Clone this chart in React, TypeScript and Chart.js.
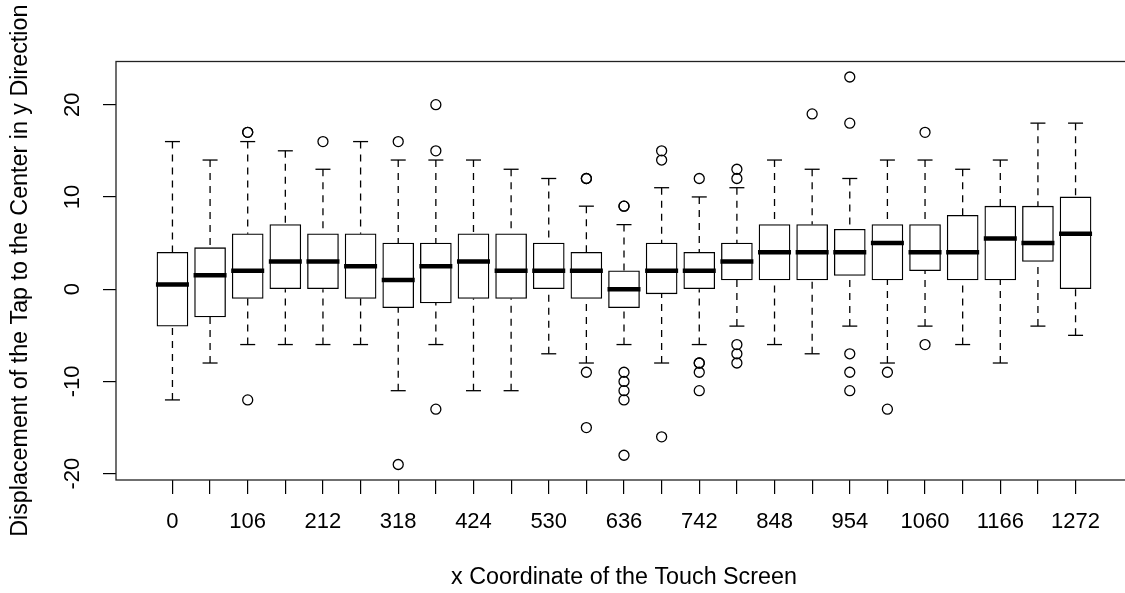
import React, { useEffect, useRef } from 'react';
import { Chart, registerables } from 'chart.js';

Chart.register(...registerables);

const categories = [0, 53, 106, 159, 212, 265, 318, 371, 424, 477, 530, 583, 636, 689, 742, 795, 848, 901, 954, 1007, 1060, 1113, 1166, 1219, 1272];
const whiskerHigh = [16, 14, 16, 15, 13, 16, 14, 14, 14, 13, 12, 9, 7, 11, 10, 11, 14, 13, 12, 14, 14, 13, 14, 18, 18];
const q3 = [4, 4.5, 6, 7, 6, 6, 5, 5, 6, 6, 5, 4, 2, 5, 4, 5, 7, 7, 6.5, 7, 7, 8, 9, 9, 10];
const median = [0.5, 1.5, 2, 3, 3, 2.5, 1, 2.5, 3, 2, 2, 2, 0, 2, 2, 3, 4, 4, 4, 5, 4, 4, 5.5, 5, 6];
const q1 = [-4, -3, -1, 0, 0, -1, -2, -1.5, -1, -1, 0, -1, -2, -0.5, 0, 1, 1, 1, 1.5, 1, 2, 1, 1, 3, 0];
const whiskerLow = [-12, -8, -6, -6, -6, -6, -11, -6, -11, -11, -7, -8, -6, -8, -6, -4, -6, -7, -4, -8, -4, -6, -8, -4, -5];
const outliers: number[][] = [
  [], [], [17, 17, -12], [], [16], [], [16, -19], [20, 15, -13], [], [], [],
  [12, 12, -9, -15], [9, 9, -9, -10, -11, -12, -18], [15, 14, -16], [12, -8, -8, -9, -11],
  [13, 12, -6, -7, -8], [], [19], [23, 18, -7, -9, -11], [-9, -13], [17, -6], [], [], [], [],
];
const yTicks = [-20, -10, 0, 10, 20];
const xTitle = 'x Coordinate of the Touch Screen';
const yTitle = 'Displacement of the Tap to the Center in y Direction';

const FONT = 'Liberation Sans, Arial, Helvetica, sans-serif';
const BOX_W = 31;

const boxPlugin = {
  id: 'boxExtras',
  afterDatasetsDraw(chart: any) {
    const { ctx, chartArea } = chart;
    const xs = chart.scales.x;
    const ys = chart.scales.y;
    const half = BOX_W / 2;
    const cap = 7.5;
    ctx.save();
    ctx.strokeStyle = '#000';
    const seg = (x1: number, y1: number, x2: number, y2: number) => {
      ctx.beginPath();
      ctx.moveTo(x1, y1);
      ctx.lineTo(x2, y2);
      ctx.stroke();
    };
    categories.forEach((c, i) => {
      const px = xs.getPixelForValue(c);
      const yHi = ys.getPixelForValue(whiskerHigh[i]);
      const yLo = ys.getPixelForValue(whiskerLow[i]);
      const yQ3 = ys.getPixelForValue(q3[i]);
      const yQ1 = ys.getPixelForValue(q1[i]);
      const yMed = ys.getPixelForValue(median[i]);
      ctx.lineWidth = 1.3;
      ctx.setLineDash([7, 6]);
      seg(px, yHi, px, yQ3);
      seg(px, yLo, px, yQ1);
      ctx.setLineDash([]);
      seg(px - cap, yHi, px + cap, yHi);
      seg(px - cap, yLo, px + cap, yLo);
      ctx.lineWidth = 4.5;
      seg(px - half - 1, yMed, px + half + 1, yMed);
    });
    ctx.lineWidth = 1.3;
    ctx.strokeStyle = '#222';
    ctx.strokeRect(chartArea.left, chartArea.top, chartArea.right - chartArea.left, chartArea.bottom - chartArea.top);
    ctx.restore();
  },
};

export default function App() {
  const ref = useRef<HTMLCanvasElement | null>(null);
  useEffect(() => {
    if (!ref.current) return;
    const outlierPts: { x: number; y: number }[] = [];
    categories.forEach((c, i) => outliers[i].forEach((v) => outlierPts.push({ x: c, y: v })));
    const chart = new Chart(ref.current, {
      type: 'bar',
      data: {
        datasets: [
          {
            type: 'bar',
            data: categories.map((c, i) => ({ x: c, y: [q1[i], q3[i]] })) as any,
            backgroundColor: '#fff',
            borderColor: '#000',
            borderWidth: 1.3,
            borderSkipped: false,
            barThickness: BOX_W,
          } as any,
          {
            type: 'scatter',
            data: outlierPts as any,
            pointStyle: 'circle',
            pointRadius: 5,
            pointBorderWidth: 1.3,
            pointBackgroundColor: 'rgba(0,0,0,0)',
            pointBorderColor: '#000',
            showLine: false,
          } as any,
        ],
      },
      options: {
        responsive: false,
        animation: false,
        devicePixelRatio: 1,
        layout: { padding: { top: 61.5, right: 8, left: 0, bottom: 0 } },
        plugins: { legend: { display: false }, tooltip: { enabled: false } },
        scales: {
          x: {
            type: 'linear',
            offset: false,
            min: -79.5,
            max: 1351.5,
            afterBuildTicks: (s: any) => {
              s.ticks = categories.map((v) => ({ value: v }));
            },
            afterFit: (s: any) => {
              s.height = 113;
            },
            grid: { display: true, offset: false, drawOnChartArea: false, drawTicks: true, tickLength: 14, color: '#000', lineWidth: 1.2 },
            border: { display: false },
            ticks: {
              autoSkip: false,
              maxRotation: 0,
              minRotation: 0,
              padding: 15,
              color: '#000',
              font: { family: FONT, size: 22 },
              callback: (_v: any, idx: number) => (idx % 2 === 0 ? String(categories[idx]) : ''),
            },
            title: {
              display: true,
              text: xTitle,
              color: '#000',
              font: { family: FONT, size: 23.3 },
              padding: { top: 0, bottom: 1.2 },
            },
          },
          y: {
            type: 'linear',
            min: -20.68,
            max: 24.68,
            afterBuildTicks: (s: any) => {
              s.ticks = yTicks.map((v) => ({ value: v }));
            },
            afterFit: (s: any) => {
              s.width = 116;
            },
            grid: { display: true, drawOnChartArea: false, drawTicks: true, tickLength: 13, color: '#000', lineWidth: 1.2 },
            border: { display: false },
            ticks: {
              minRotation: 90,
              maxRotation: 90,
              crossAlign: 'center',
              padding: 14,
              color: '#000',
              font: { family: FONT, size: 22 },
              callback: (v: any) => String(v),
            },
            title: {
              display: true,
              text: yTitle,
              color: '#000',
              font: { family: FONT, size: 23.3 },
              padding: { top: 6.6, bottom: 0 },
            },
          },
        },
      },
      plugins: [boxPlugin],
    });
    return () => chart.destroy();
  }, []);
  return (
    <div style={{ position: 'fixed', left: 0, top: 0, width: 1125, height: 593, overflow: 'hidden', background: '#fff' }}>
      <canvas ref={ref} width={1140} height={593} style={{ width: 1140, height: 593, display: 'block' }} />
    </div>
  );
}
